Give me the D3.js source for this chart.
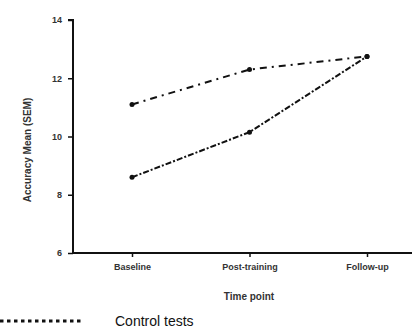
<!DOCTYPE html>
<html>
<head>
<meta charset="utf-8">
<script src="https://cdn.jsdelivr.net/npm/d3@7"></script>
<style>
  body { margin: 0; background: #fff; }
  svg { display: block; }
  .tick text { font-family: "Liberation Sans", Arial, sans-serif; fill: #333; font-weight: bold; }
</style>
</head>
<body>
<svg id="chart" width="419" height="336"></svg>
<script>
const categories = ["Baseline", "Post-training", "Follow-up"];
const yTicks = [6, 8, 10, 12, 14];
const upperSeries = [11.1, 12.3, 12.75];
const lowerSeries = [8.6, 10.15, 12.75];
const legendLabel = "Control tests";

const svg = d3.select("#chart");

const x = d3.scalePoint()
    .domain(categories)
    .range([132, 367]);

const y = d3.scaleLinear()
    .domain([6, 14])
    .range([253, 20]);

// axes
const xAxis = svg.append("g")
    .attr("transform", "translate(0,253)")
    .call(d3.axisBottom(x).tickSize(4).tickPadding(7));
xAxis.select(".domain").attr("d", "M73,0H412").attr("stroke", "#111").attr("stroke-width", 2);
xAxis.selectAll(".tick line").attr("stroke", "#111").attr("stroke-width", 1.5);
xAxis.selectAll(".tick text").attr("font-size", 9);

const yAxis = svg.append("g")
    .attr("transform", "translate(73,0)")
    .call(d3.axisLeft(y).tickValues(yTicks).tickSize(5).tickPadding(6));
yAxis.select(".domain").attr("d", "M0,253V20H-5").attr("stroke", "#111").attr("stroke-width", 2);
yAxis.selectAll(".tick line").attr("stroke", "#111").attr("stroke-width", 1.5);
yAxis.selectAll(".tick text").attr("font-size", 9);

// axis titles
svg.append("text")
    .attr("transform", "translate(31,150) rotate(-90)")
    .attr("text-anchor", "middle")
    .attr("font-family", "Liberation Sans, Arial, sans-serif")
    .attr("font-size", 10)
    .attr("font-weight", "bold")
    .attr("fill", "#333")
    .text("Accuracy Mean (SEM)");

svg.append("text")
    .attr("x", 249).attr("y", 300)
    .attr("text-anchor", "middle")
    .attr("font-family", "Liberation Sans, Arial, sans-serif")
    .attr("font-size", 10)
    .attr("font-weight", "bold")
    .attr("fill", "#333")
    .text("Time point");

// lines
const line = d3.line()
    .x((d, i) => x(categories[i]))
    .y(d => y(d));

svg.append("path")
    .datum(upperSeries)
    .attr("d", line)
    .attr("fill", "none")
    .attr("stroke", "#111")
    .attr("stroke-width", 2)
    .attr("stroke-dasharray", "7,5,2,5");

svg.append("path")
    .datum(lowerSeries)
    .attr("d", line)
    .attr("fill", "none")
    .attr("stroke", "#111")
    .attr("stroke-width", 2)
    .attr("stroke-dasharray", "6,2,2,2");

// markers
[upperSeries, lowerSeries].forEach(s => {
    svg.selectAll(null)
        .data(s)
        .enter().append("circle")
        .attr("cx", (d, i) => x(categories[i]))
        .attr("cy", d => y(d))
        .attr("r", 2.5)
        .attr("fill", "#111");
});

// legend (partial, cropped from a larger figure)
svg.append("line")
    .attr("x1", 0).attr("x2", 82)
    .attr("y1", 321).attr("y2", 321)
    .attr("stroke", "#111")
    .attr("stroke-width", 3)
    .attr("stroke-dasharray", "3.5,3.5");

svg.append("text")
    .attr("x", 115).attr("y", 326)
    .attr("font-family", "Liberation Sans, Arial, sans-serif")
    .attr("font-size", 14)
    .attr("fill", "#111")
    .text(legendLabel);
</script>
</body>
</html>
